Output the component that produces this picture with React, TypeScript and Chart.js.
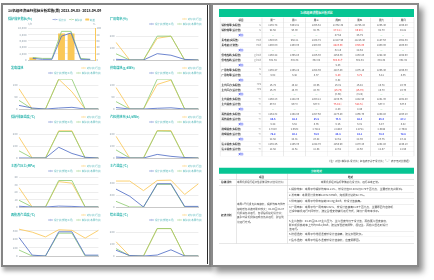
import React, { useEffect, useRef } from "react";
import { Chart, registerables } from "chart.js";
Chart.register(...registerables);

const S = 4;
const W = 434;
const H = 280;
const px = (v: number) => v * S;

const BLUE = "#5470c6";
const GREEN = "#91cc75";
const ORANGE = "#fac858";
const TEAL = "#29b3ac";
const LEG_TXT = "#5cb9bb";
const TICK = "#8d9aa6";
const HEAD_GREEN = "#07c593";
const TXT = "#4a4a4a";
const FONT = '"Noto Sans CJK SC", "Noto Sans", sans-serif';

// ---------------- data ----------------
const reportTitle = "1#机组经济运行指标分析报告(周)  2023-04-03~2023-04-09";
const dates = ["04-03", "04-04", "04-05", "04-06", "04-07", "04-08", "04-09"];

// chart 1 (bars on right axis, lines on left axis)
const boilerTitle = "锅炉效率指标(%)";
const boilerDesign = [500, 200, 200, 7500, 8500, 200, 200];
const boilerActual = [800, 500, 500, 9000, 9000, 500, 200];
const boilerLoss = [8, 0, 0, 83, 83, 0, 0];

const chartTitles = [
  "厂用电率(%)",
  "发电煤耗",
  "供电煤耗(g/kWh)",
  "锅炉排烟温度(℃)",
  "汽机热耗率(kJ/kWh)",
  "主蒸汽压力(MPa)",
  "主汽温度(℃)",
  "再热蒸汽温度(℃)",
  "给水温度(℃)",
];
const legendBench = "对标值(行业)";
const legendDesign = "设计值(额定工况)";
const legendActual = "实际值(本周均值)";

const rateBench = [148, 0, 0, 182, 200, 0, 0];
const rateActual = [52, 0, 0, 200, 200, 0, 0];
const rateDesign = [6, 0, 0, 53, 40, 5, 0];

const coalGenBench = [85, 0, 0, 125, 72, 0, 0];
const coalGenActual = [36, 0, 0, 125, 125, 0, 0];
const coalGenDesign = [15, 4, 0, 4, 7, 0, 0];

const coalSupBench = [90, 0, 0, 103, 121, 0, 0];
const coalSupActual = [31, 0, 0, 125, 125, 0, 0];
const coalSupDesign = [6, 0, 0, 3, 5, 0, 0];

const exhaustBench = [175, 0, 0, 228, 228, 0, 0];
const exhaustActual = [60, 0, 0, 222, 222, 0, 0];
const exhaustDesign = [0, 0, 0, 90, 38, 6, 0];

const heatBench = [182, 0, 0, 230, 230, 0, 0];
const heatActual = [68, 0, 0, 226, 224, 0, 0];
const heatDesign = [8, 0, 0, 30, 14, 4, 0];

const pressBench = [26, 0, 0, 34, 32, 0, 0];
const pressActual = [9, 0, 0, 35.5, 35.5, 0, 0];
const pressDesign = [1, 0, 0, 1.2, 0.8, 0, 0];

const steamBench = [870, 870, 550, 890, 900, 420, 780];
const steamActual = [190, 0, 0, 760, 760, 0, 0];
const steamDesign = [600, 360, 0, 780, 780, 20, 20];

const reheatBench = [315, 280, 224, 308, 301, 210, 301];
const reheatActual = [70, 0, 0, 268, 268, 0, 0];
const reheatDesign = [217, 10, 0, 284, 284, 10, 10];

const feedBench = [120, 0, 0, 230, 230, 0, 0];
const feedActual = [62, 0, 0, 230, 230, 0, 0];
const feedDesign = [48, 4, 0, 8, 52, 0, 0];

const axisMax = [250, 125, 125, 250, 250, 40, 1000, 350, 250];
const axisStep = [50, 25, 25, 50, 50, 5, 200, 50, 50];

// ---------------- table data ----------------
const tableTitle = "1#机组经济指标分析对比";
const tableHeader = ["项目", "周一", "周二", "周三", "周四", "周五", "周六", "周日"];
const tableNames = [
  "锅炉效率(实际值)", "锅炉效率(设计值)", "对比",
  "发电量(实际值)", "发电量(计划值)", "对比",
  "供电煤耗(实际值)", "供电煤耗(设计值)", "对比",
  "厂用电率(实际值)", "厂用电率(设计值)", "对比",
  "主汽压力(实际值)", "主汽压力(设计值)", "对比",
  "主汽温度(实际值)", "主汽温度(设计值)", "对比",
  "再热温度(实际值)", "再热温度(设计值)", "对比",
  "排烟温度(实际值)", "排烟温度(设计值)", "对比",
  "给水温度(实际值)", "给水温度(设计值)", "对比",
];
const tableUnits = [
  "%", "%", "", "MWh", "MWh", "", "g/kWh", "g/kWh", "", "%", "%", "",
  "MPa", "MPa", "", "℃", "℃", "", "℃", "℃", "", "℃", "℃", "", "℃", "℃", "",
];
const tableValues = [
  ["1235.74", "3464.91", "1265.52", "11752.38", "11745.16", "1265.40", "1265.40"],
  ["92.68", "93.00", "92.75", "87.81↓", "86.90↓", "92.70", "92.81"],
  ["—", "—", "—", "47.58", "45.79", "—", "—"],
  ["1326.53", "958.21", "1104.72", "12127.90", "11215.40", "1187.63", "1052.39"],
  ["1400.00", "1400.00", "1400.00", "8823.00", "8725.00", "1400.00", "1400.00"],
  ["—", "—", "—", "32.15", "28.54", "—", "—"],
  ["1256.48", "1365.80", "1286.30", "1265.30", "1253.80", "1298.40", "1268.60"],
  ["302.34", "302.34", "302.34", "308.51↑", "302.34", "302.34", "302.34"],
  ["", "", "", "9.43", "", "", ""],
  ["1235.47", "1265.28", "1254.36", "1287.40", "1276.15", "1265.40", "1256.30"],
  ["5.62", "5.48", "5.37", "5.80", "5.72", "5.41", "5.36"],
  ["", "", "", "0.52", "", "", ""],
  ["16.74", "16.82", "16.65", "16.31", "16.42", "16.78", "16.70"],
  ["16.70", "16.70", "16.70", "(16.70)", "(16.70)", "16.70", "16.70"],
  ["—", "—", "—", "(0.39)", "(0.28)", "—", "—"],
  ["1256.23", "1248.30", "1260.12", "1235.76", "1242.90", "1251.30", "1262.40"],
  ["537.0", "537.0", "537.0", "75.84↓", "528.6↓", "537.0", "537.0"],
  ["—", "—", "—", "8.40", "8.46", "—", "—"],
  ["1254.32", "1268.90", "1257.60", "1273.80", "1266.70", "1259.80", "1263.20"],
  ["86.6", "88.1", "85.9", "75.6", "88.3", "86.4", "87.2"],
  ["5.48", "5.52", "5.36", "5.25", "5.31", "5.47", "5.42"],
  ["2.7823", "2.6532", "2.7812", "2.8843", "2.8721", "2.6948", "2.7615"],
  ["78.9", "80.2", "79.6", "80.8", "81.2", "79.4", "79.9"],
  ["22.58", "24.01", "23.42", "22.61", "22.36", "23.75", "23.12"],
  ["1235.46", "1256.30", "1248.70", "1265.90", "1270.20", "1252.80", "1246.10"],
  ["12.58", "12.61", "12.54", "12.62", "12.60", "12.57", "12.55"],
  ["", "", "", "", "", "", ""],
];
const redCells = [[1, 3], [1, 4], [4, 3], [4, 4], [7, 3], [10, 3], [10, 4], [13, 3], [13, 4], [16, 3], [16, 4]];
const blueRows = [19, 22];
const tableNote = "（注：对比=实际值-设计值；红色表示劣于设计值；“—”表示无对比数据）";

const conclusionTitle = "分析结论";
const conclusionHeader = ["项目", "结论"];
const summaryLabel = "总体评价";
const summaryItem = "本周机组运行经济性总体评价(对比设计值)";
const summaryText = "本周机组经济指标整体接近设计值，运行基本正常。";
const analysisLabel = "经济分析";
const analysisItem =
  "本周1号机组负荷率偏低，锅炉效率与供电煤耗受负荷波动影响较大；04-06至04-07机组满负荷运行，各项指标接近设计值；其余时段机组停运或低负荷运行，建议优化运行方式。";
const analysisLines = [
  "1.锅炉效率：本周平均锅炉效率92.21%，较设计值93.00%低0.79个百分点，主要受低负荷影响。",
  "2.发电量：本周累计发电量12972.6MWh，完成周计划的92.7%。",
  "3.供电煤耗：本周平均供电煤耗308.6g/kWh，较设计值偏高。",
  "4.厂用电率：本周平均厂用电率5.62%，较设计值偏高0.26个百分点，主要原因为启停机",
  "过程中辅机运行时间较长，建议合理安排辅机运行方式，降低厂用电率水平。",
  "5.主汽参数：04-06至04-07主汽压力、主汽温度均低于设计值，再热蒸汽温度偏低，",
  "影响机组热耗率上升约35kJ/kWh，建议加强燃烧调整，保证主、再热汽温达到设计",
  "值运行。",
  "6.排烟温度：本周平均排烟温度较设计值偏高，建议加强吹灰。",
  "7.给水温度：本周平均给水温度较设计值偏低，应查明原因。",
];

// ---------------- helpers ----------------
function Txt(props: any) {
  const { x, y, text, size = 2.8, color = TXT, bold = false, align = "left", w = 0 } = props;
  const style: any = {
    position: "absolute",
    top: px(y - size * 0.6),
    fontSize: px(size),
    lineHeight: px(size * 1.2) + "px",
    color,
    fontWeight: bold ? 700 : 400,
    whiteSpace: "nowrap",
  };
  if (align === "left") style.left = px(x);
  else if (align === "right") style.right = px(W - x);
  else {
    style.left = px(x - w / 2);
    style.width = px(w);
    style.textAlign = "center";
  }
  return <div style={style}>{text}</div>;
}

function LineMark({ color }: any) {
  return (
    <span style={{ position: "relative", display: "inline-block", width: px(5), height: px(2.4) }}>
      <span style={{ position: "absolute", left: 0, width: px(5), top: px(1.0), height: px(0.45), background: color }} />
      <span
        style={{
          position: "absolute",
          left: px(1.65),
          top: px(0.37),
          width: px(1.7),
          height: px(1.7),
          boxSizing: "border-box",
          border: `${px(0.45)}px solid ${color}`,
          borderRadius: "50%",
          background: "#fff",
        }}
      />
    </span>
  );
}

function LegendRow({ right, y, items }: any) {
  return (
    <div
      style={{
        position: "absolute",
        right: px(W - right),
        top: px(y - 1.6),
        height: px(3.2),
        display: "flex",
        alignItems: "center",
        whiteSpace: "nowrap",
      }}
    >
      {items.map((it: any, i: number) => (
        <div key={i} style={{ display: "flex", alignItems: "center", marginLeft: i ? px(3) : 0 }}>
          {it.bar ? (
            <span style={{ display: "inline-block", width: px(4), height: px(2.2), background: it.color, borderRadius: px(0.5) }} />
          ) : (
            <LineMark color={it.color} />
          )}
          <span style={{ marginLeft: px(0.8), fontSize: px(2.5), lineHeight: px(3.2) + "px", color: LEG_TXT }}>{it.label}</span>
        </div>
      ))}
    </div>
  );
}

function ChartCanvas({ left, top, width, height, config }: any) {
  const ref = useRef<HTMLCanvasElement>(null);
  useEffect(() => {
    const chart = new Chart(ref.current as HTMLCanvasElement, config);
    return () => chart.destroy();
  }, []);
  return <canvas ref={ref} width={width} height={height} style={{ position: "absolute", left, top, width, height }} />;
}

const tickFont = { size: 2.8, family: FONT };

function lineDataset(label: string, data: number[], color: string) {
  return { label, data, borderColor: color, backgroundColor: color, borderWidth: 0.85, pointRadius: 0, tension: 0 };
}

function lineConfig(i: number, design: number[], actual: number[], bench: number[], yw: number) {
  return {
    type: "line",
    data: {
      labels: dates,
      datasets: [lineDataset(legendDesign, design, BLUE), lineDataset(legendActual, actual, GREEN), lineDataset(legendBench, bench, ORANGE)],
    },
    options: {
      animation: false,
      responsive: false,
      devicePixelRatio: 1,
      layout: { padding: { top: 2, right: 4, bottom: 0, left: 0 } },
      plugins: { legend: { display: false }, tooltip: { enabled: false }, title: { display: false } },
      scales: {
        x: {
          grid: { display: false },
          border: { display: true, color: "#c9c9c9", width: 1 },
          ticks: { color: TICK, font: tickFont, padding: 2, maxRotation: 0, autoSkip: false },
          afterFit: (s: any) => {
            s.height = 7;
          },
        },
        y: {
          min: 0,
          max: axisMax[i],
          grid: { color: "#ededed", lineWidth: 1, drawTicks: false },
          border: { display: false },
          ticks: { stepSize: axisStep[i], color: TICK, font: tickFont, padding: 1.5 },
          afterFit: (s: any) => {
            s.width = yw;
          },
        },
      },
    },
  };
}

const boilerConfig = {
  type: "bar",
  data: {
    labels: dates,
    datasets: [
      { ...lineDataset("设计值", boilerDesign, BLUE), type: "line", yAxisID: "y", order: 1 },
      { ...lineDataset("实际值", boilerActual, GREEN), type: "line", yAxisID: "y", order: 1 },
      { type: "bar", label: "耗差", data: boilerLoss, yAxisID: "y1", backgroundColor: ORANGE, order: 2, barPercentage: 0.8, categoryPercentage: 0.9 },
    ],
  },
  options: {
    animation: false,
    responsive: false,
    devicePixelRatio: 1,
    layout: { padding: { top: 2, right: 0, bottom: 0, left: 0 } },
    plugins: { legend: { display: false }, tooltip: { enabled: false } },
    scales: {
      x: {
        grid: { display: false },
        border: { display: true, color: "#c9c9c9", width: 1 },
        ticks: { color: TICK, font: tickFont, padding: 2, maxRotation: 0, autoSkip: false },
        afterFit: (s: any) => {
          s.height = 7;
        },
      },
      y: {
        position: "left",
        min: 0,
        max: 10000,
        grid: { color: "#ededed", lineWidth: 1, drawTicks: false },
        border: { display: false },
        ticks: { stepSize: 2000, color: TICK, font: tickFont, padding: 1.5 },
        afterFit: (s: any) => {
          s.width = 24;
        },
      },
      y1: {
        position: "right",
        min: 0,
        max: 100,
        grid: { display: false, drawTicks: false },
        border: { display: true, color: ORANGE, width: 1 },
        ticks: { stepSize: 20, color: TICK, font: tickFont, padding: 1.5 },
        afterFit: (s: any) => {
          s.width = 9;
        },
      },
    },
  },
};

const lineSeries = [
  [rateDesign, rateActual, rateBench],
  [coalGenDesign, coalGenActual, coalGenBench],
  [coalSupDesign, coalSupActual, coalSupBench],
  [exhaustDesign, exhaustActual, exhaustBench],
  [heatDesign, heatActual, heatBench],
  [pressDesign, pressActual, pressBench],
  [steamDesign, steamActual, steamBench],
  [reheatDesign, reheatActual, reheatBench],
  [feedDesign, feedActual, feedBench],
];

// ---------------- layout ----------------
const rowTitleY = (r: number) => 19 + 49 * r;
const rowTop = (r: number) => 29 + 49 * r;
const rowBottom = (r: number) => 60 + 49 * r;

const t1Left = 220;
const t1Right = 414;
const t1LabelW = 42;
const t1Top = 17.6;
const t1RowH = 4.95;
const t1ColW = (t1Right - t1Left - t1LabelW) / 7;

const analysisLineY = [189, 195, 201, 206.7, 210.7, 220.8, 224.8, 228.6, 234, 239.3];
const analysisSepY = [192, 198, 204, 215.5, 231.3, 236.7];

export default function App() {
  const charts = lineSeries.map((ser, i) => {
    const pos = i + 1;
    const r = Math.floor(pos / 2);
    const c = pos % 2;
    return { i, r, c, ser };
  });

  return (
    <div style={{ position: "fixed", left: 0, top: 0, width: W, height: H, overflow: "hidden", background: "#fff" }}>
      {/* pages */}
      <div
        style={{
          position: "absolute",
          left: 1,
          top: 3,
          width: 210,
          height: 264,
          boxSizing: "border-box",
          border: "2px solid #858585",
          background: "#fff",
          boxShadow: "2px 4px 4px rgba(0,0,0,0.35)",
        }}
      />
      <div style={{ position: "absolute", left: 207, top: 5, width: 1, height: 259, background: "#2a2a2a" }} />
      <div
        style={{
          position: "absolute",
          left: 211,
          top: 3,
          width: 208,
          height: 264,
          boxSizing: "border-box",
          border: "2px solid #8a8a8a",
          background: "#fff",
          boxShadow: "4px 5px 6px rgba(0,0,0,0.45)",
        }}
      />

      {/* text layer */}
      <div
        style={{
          position: "absolute",
          left: 0,
          top: 0,
          width: px(W),
          height: px(H),
          transform: `scale(${1 / S})`,
          transformOrigin: "0 0",
          fontFamily: FONT,
        }}
      >
        <Txt x={8} y={10} text={reportTitle} size={3.5} bold color="#111" />

        {/* chart 1 heading */}
        <Txt x={8} y={19} text={boilerTitle} size={3.1} bold color={TEAL} />
        <LegendRow
          right={95}
          y={19.5}
          items={[
            { color: BLUE, label: "设计值" },
            { color: GREEN, label: "实际值" },
            { color: ORANGE, label: "耗差", bar: true },
          ]}
        />
        <Txt x={32} y={23.6} text="t/h" size={2.5} color={TICK} align="right" />
        <Txt x={93} y={23.6} text="%" size={2.5} color={TICK} />

        {charts.map(({ i, r, c }) => {
          const tx = c === 0 ? 11 : 110;
          const rx = c === 0 ? 101 : 202;
          const ty = rowTitleY(r);
          return (
            <React.Fragment key={i}>
              <Txt x={tx} y={ty} text={chartTitles[i]} size={3.1} bold color={TEAL} />
              <LegendRow right={rx} y={ty} items={[{ color: ORANGE, label: legendBench }]} />
              <LegendRow
                right={rx}
                y={ty + 5}
                items={[
                  { color: BLUE, label: legendDesign },
                  { color: GREEN, label: legendActual },
                ]}
              />
            </React.Fragment>
          );
        })}

        {/* right page: table 1 */}
        <div
          style={{
            position: "absolute",
            left: px(219),
            top: px(9),
            width: px(195),
            height: px(8),
            background: HEAD_GREEN,
            color: "#fff",
            fontWeight: 700,
            fontSize: px(2.9),
            lineHeight: px(8) + "px",
            textAlign: "center",
          }}
        >
          {tableTitle}
        </div>
        {Array.from({ length: 28 }, (_, r) => {
          const y = t1Top + r * t1RowH;
          const isHeader = r === 0;
          const d = r - 1;
          const isCmp = !isHeader && d % 3 === 2;
          const vals = isHeader ? tableHeader.slice(1) : tableValues[d];
          return (
            <div
              key={"r" + r}
              style={{
                position: "absolute",
                left: px(t1Left),
                top: px(y),
                width: px(t1Right - t1Left),
                height: px(t1RowH),
                borderBottom: `${px(0.4)}px solid #d4d4d4`,
                boxSizing: "border-box",
                fontSize: px(2.5),
                lineHeight: px(t1RowH) + "px",
                whiteSpace: "nowrap",
              }}
            >
              {isHeader ? (
                <div style={{ position: "absolute", left: 0, width: px(t1LabelW), textAlign: "center", fontWeight: 700, color: "#333" }}>
                  {tableHeader[0]}
                </div>
              ) : isCmp ? (
                <div style={{ position: "absolute", left: 0, width: px(t1LabelW), textAlign: "center", fontWeight: 700, color: "#2a3cf0" }}>
                  {tableNames[d]}
                </div>
              ) : (
                <>
                  <div style={{ position: "absolute", left: px(1.6), fontWeight: 700, color: "#333" }}>{tableNames[d]}</div>
                  <div style={{ position: "absolute", right: px(194 - t1LabelW + 1), fontSize: px(2.2), color: "#888" }}>{tableUnits[d]}</div>
                </>
              )}
              {vals.map((v: string, cIdx: number) => {
                let color = "#555";
                let bold = isHeader;
                if (!isHeader) {
                  if (v === "—") color = "#27a844";
                  else if (redCells.some(([rr, cc]) => rr === d && cc === cIdx)) color = "#ee2a2a";
                  else if (blueRows.includes(d)) {
                    color = "#2a3cf0";
                    bold = true;
                  }
                }
                return (
                  <div
                    key={cIdx}
                    style={{
                      position: "absolute",
                      left: px(t1LabelW + cIdx * t1ColW),
                      width: px(t1ColW),
                      textAlign: "center",
                      color,
                      fontWeight: bold ? 700 : 400,
                    }}
                  >
                    {v}
                  </div>
                );
              })}
            </div>
          );
        })}
        {Array.from({ length: 9 }, (_, k) => {
          const x = k === 0 ? t1Left : k === 8 ? t1Right : t1Left + t1LabelW + (k - 1) * t1ColW;
          return (
            <div
              key={"v" + k}
              style={{ position: "absolute", left: px(x - 0.2), top: px(t1Top), width: px(0.4), height: px(28 * t1RowH), background: "#d4d4d4" }}
            />
          );
        })}
        <Txt x={411} y={160.7} text={tableNote} size={2.5} color="#444" align="right" />

        {/* right page: table 2 */}
        <div
          style={{
            position: "absolute",
            left: px(219),
            top: px(167.8),
            width: px(195),
            height: px(5.6),
            background: HEAD_GREEN,
            color: "#fff",
            fontWeight: 700,
            fontSize: px(2.7),
            lineHeight: px(5.6) + "px",
            textAlign: "center",
          }}
        >
          {conclusionTitle}
        </div>
        {[179.3, 185, 243.5].map((y, k) => (
          <div key={"h" + k} style={{ position: "absolute", left: px(219), top: px(y), width: px(195), height: px(0.4), background: "#cfcfcf" }} />
        ))}
        {analysisSepY.map((y, k) => (
          <div key={"s" + k} style={{ position: "absolute", left: px(287), top: px(y), width: px(127), height: px(0.4), background: "#dedede" }} />
        ))}
        {[236, 287].map((x, k) => (
          <div key={"c" + k} style={{ position: "absolute", left: px(x), top: px(173.4), width: px(0.4), height: px(70.1), background: "#cfcfcf" }} />
        ))}
        <Txt x={261.5} y={176.6} w={51} align="center" text={conclusionHeader[0]} size={2.6} bold color="#333" />
        <Txt x={350.5} y={176.6} w={127} align="center" text={conclusionHeader[1]} size={2.6} bold color="#333" />
        <Txt x={221} y={182.1} text={summaryLabel} size={2.7} bold color="#333" />
        <Txt x={237} y={182.1} text={summaryItem} size={2.5} color={TXT} />
        <Txt x={350.5} y={182.1} w={127} align="center" text={summaryText} size={2.6} color={TXT} />
        <Txt x={221} y={215} text={analysisLabel} size={2.7} bold color="#333" />
        <div
          style={{
            position: "absolute",
            left: px(237),
            top: px(202),
            width: px(49),
            fontSize: px(2.6),
            lineHeight: px(4.34) + "px",
            color: TXT,
          }}
        >
          {analysisItem}
        </div>
        {analysisLines.map((t, k) => (
          <Txt key={"a" + k} x={289} y={analysisLineY[k]} text={t} size={2.7} color={TXT} />
        ))}
      </div>

      {/* chart layer */}
      <div style={{ position: "absolute", left: 0, top: 0, width: W, height: H }}>
        <ChartCanvas left={4} top={25} width={100} height={42} config={boilerConfig} />
        {charts.map(({ i, r, c, ser }) => {
          const left = c === 0 ? 4 : 100;
          const width = c === 0 ? 100 : 104;
          const yw = c === 0 ? 15 : 16;
          const top = rowTop(r) - 2;
          const height = rowBottom(r) - rowTop(r) + 2 + 7;
          return <ChartCanvas key={i} left={left} top={top} width={width} height={height} config={lineConfig(i, ser[0], ser[1], ser[2], yw)} />;
        })}
      </div>
    </div>
  );
}
